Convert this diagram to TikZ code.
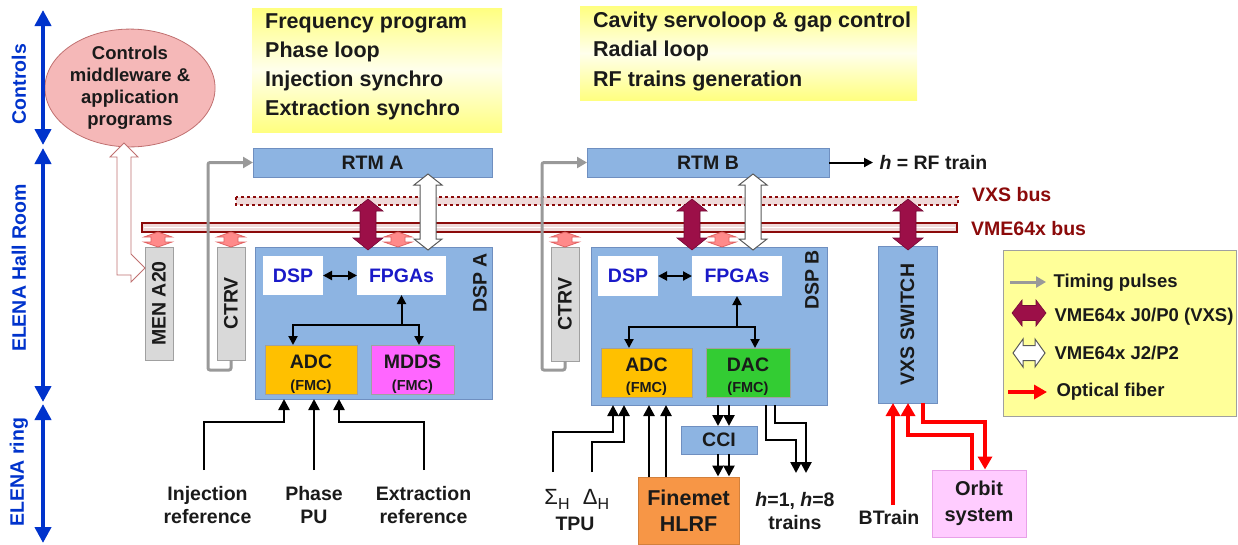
\documentclass[tikz,border=0pt]{standalone}
\usepackage{fontspec}
\setmainfont{Liberation Sans}
\usetikzlibrary{arrows.meta,shapes.geometric,calc}

\definecolor{axisblue}{HTML}{0033CC}
\definecolor{boxfill}{HTML}{8DB4E2}
\definecolor{boxline}{HTML}{6F8FC0}
\definecolor{grayfill}{HTML}{D9D9D9}
\definecolor{grayline}{HTML}{A0A0A0}
\definecolor{timegray}{HTML}{999999}
\definecolor{busred}{HTML}{8B0A0A}
\definecolor{busfill}{HTML}{EFD9D9}
\definecolor{vxsmag}{HTML}{9C0F48}
\definecolor{salmonfill}{HTML}{FF8A8A}
\definecolor{salmonline}{HTML}{E06464}
\definecolor{labelblue}{HTML}{1A1AC8}
\definecolor{adcfill}{HTML}{FFC000}
\definecolor{mddsfill}{HTML}{FF66FF}
\definecolor{dacfill}{HTML}{33CC33}
\definecolor{hlrffill}{HTML}{F79646}
\definecolor{orbitfill}{HTML}{FFCCFF}
\definecolor{orbitline}{HTML}{E8A0E8}
\definecolor{ellfill}{HTML}{F5B8B8}
\definecolor{ellline}{HTML}{C07070}
\definecolor{notefill}{HTML}{FFFF80}
\definecolor{notelight}{HTML}{FFFFEC}
\definecolor{legendfill}{HTML}{FFFF99}
\definecolor{fiberred}{HTML}{FF0000}
\definecolor{textgray}{HTML}{1A1A1A}

\newcommand{\fsz}[2]{\fontsize{#1}{#2}\selectfont}
% vertical double arrow: style, x, top, bottom, shaft half width, head half width, head length
\newcommand{\dblV}[7]{%
  \draw[#1] (#2,#3) -- (#2+#6,#3+#7) -- (#2+#5,#3+#7) -- (#2+#5,#4-#7) -- (#2+#6,#4-#7)
    -- (#2,#4) -- (#2-#6,#4-#7) -- (#2-#5,#4-#7) -- (#2-#5,#3+#7) -- (#2-#6,#3+#7) -- cycle;}
% horizontal double arrow: style, y, left, right, shaft half width, head half width, head length
\newcommand{\dblH}[7]{%
  \draw[#1] (#3,#2) -- (#3+#7,#2-#6) -- (#3+#7,#2-#5) -- (#4-#7,#2-#5) -- (#4-#7,#2-#6)
    -- (#4,#2) -- (#4-#7,#2+#6) -- (#4-#7,#2+#5) -- (#3+#7,#2+#5) -- (#3+#7,#2+#6) -- cycle;}

\begin{document}
\begin{tikzpicture}[x=1pt,y=-1pt,
  font=\fsz{19.5}{23}\bfseries, text=textgray,
  blk/.style={draw=boxline, fill=boxfill, line width=1pt, inner sep=0pt, outer sep=0pt},
  gbox/.style={draw=grayline, fill=grayfill, line width=1pt, inner sep=0pt, outer sep=0pt},
  chip/.style={fill=white, inner sep=0pt, outer sep=0pt, text=labelblue},
  fmc/.style={draw=grayline, line width=0.8pt, inner sep=0pt, outer sep=0pt},
  fmctext/.style={align=center, inner sep=0pt},
  axisarr/.style={axisblue, line width=4pt,
     {Triangle[width=16pt,length=16pt]}-{Triangle[width=16pt,length=16pt]}},
  timing/.style={timegray, line width=3pt, rounded corners=2pt,
     -{Triangle[width=11pt,length=10pt]}},
  link/.style={line width=2pt, -{Triangle[width=9pt,length=9pt]}},
  biglink/.style={line width=2pt,
     {Triangle[width=9pt,length=9pt]}-{Triangle[width=9pt,length=9pt]}},
  sig/.style={line width=2.5pt, -{Triangle[width=11pt,length=11pt]}},
  fiber/.style={fiberred, line width=4pt, -{Triangle[width=14pt,length=13pt]}},
  magarr/.style={fill=vxsmag, draw=vxsmag!75!black, line width=0.6pt},
  pinkarr/.style={fill=salmonfill, draw=salmonline, line width=0.8pt},
  whitearr/.style={fill=white, draw=black!65, line width=1pt},
  hollow/.style={fill=white, draw=ellline, line width=0.8pt},
  notetext/.style={anchor=west, align=left, inner sep=0pt, font=\fsz{21.5}{29}\bfseries},
  lbl/.style={align=center},
  plain/.style={font=\fsz{22}{23}\mdseries, inner sep=0pt}
]
\useasboundingbox (0,0) rectangle (1238,544);

% ---------- function notes ----------
\shade[top color=notefill, bottom color=notefill, middle color=notelight] (252,8) rectangle (502,132);
\node[notetext] (notea) at (265,67) {Frequency program\\Phase loop\\Injection synchro\\Extraction synchro};
\shade[top color=notefill, bottom color=notefill, middle color=notelight] (580,6) rectangle (917,100);
\node[notetext, font=\fsz{21.5}{29.5}\bfseries] (noteb) at (593,51) {Cavity servoloop \& gap control\\Radial loop\\RF trains generation};

% ---------- controls ----------
\node[ellipse, draw=ellline, fill=ellfill, line width=0.8pt, minimum width=143pt,
      minimum height=110pt, inner sep=0pt, align=center, font=\fsz{18.5}{22}\bfseries]
      (ctl) at (130,88) {Controls\\middleware \&\\application\\programs};

% ---------- location axis ----------
\coordinate (ax0) at (43,10);
\coordinate (ax1) at (43,145);
\coordinate (ax2) at (43,148);
\coordinate (ax3) at (43,402);
\coordinate (ax4) at (43,404);
\coordinate (ax5) at (43,543);
\draw[axisarr] (ax0) -- (ax1);
\draw[axisarr] (ax2) -- (ax3);
\draw[axisarr] (ax4) -- (ax5);
\node[rotate=90, text=axisblue] (lblctl) at (19,84) {Controls};
\node[rotate=90, text=axisblue] (lblhall) at (19,268) {ELENA Hall Room};
\node[rotate=90, text=axisblue] (lblring) at (19,472) {ELENA ring};

% ---------- crate buses ----------
\draw[busred, dashed, line width=1.2pt, fill=busfill] (236,197) rectangle (958,205);
\draw[busred, line width=2pt, fill=busfill] (142,223) rectangle (957,232);
\draw[white, line width=1.5pt] (144,227.5) -- (955,227.5);
\node[anchor=west, text=busred, inner sep=0pt] (vxslbl) at (972,195) {VXS bus};
\node[anchor=west, text=busred, inner sep=0pt] (vmelbl) at (971,229) {VME64x bus};

% ---------- modules ----------
\node[blk, minimum width=239pt, minimum height=29pt] (RTMa) at (372.5,162.5) {RTM A};
\node[blk, minimum width=242pt, minimum height=29pt] (RTMb) at (708,162.5) {RTM B};

\node[gbox, minimum width=28pt, minimum height=113pt] (MEN) at (159,303.5) {};
\node[rotate=90] (MENlbl) at (MEN.center) {MEN A20};
\node[gbox, minimum width=28pt, minimum height=113pt] (CTRVa) at (231,303.5) {};
\node[rotate=90] (CTRValbl) at (CTRVa.center) {CTRV};
\node[gbox, minimum width=28pt, minimum height=114pt] (CTRVb) at (565,304) {};
\node[rotate=90] (CTRVblbl) at (CTRVb.center) {CTRV};

\node[blk, minimum width=237pt, minimum height=152pt] (DSPa) at (373.5,323) {};
\node[rotate=90] (DSPalbl) at (480,283) {DSP A};
\node[chip, minimum width=60pt, minimum height=39pt] (DSPca) at (293,275.5) {DSP};
\node[chip, minimum width=89pt, minimum height=39pt] (FPGAa) at (401.5,275.5) {FPGAs};
\node[fmc, fill=adcfill, minimum width=92pt, minimum height=49pt] (ADCa) at (311,369.5) {};
\node[fmctext] (ADCalbl) at ([yshift=-5pt]ADCa.center) {ADC\\[-1pt]{\fsz{14.5}{16}(FMC)}};
\node[fmc, fill=mddsfill, minimum width=83pt, minimum height=49pt] (MDDS) at (412.5,369.5) {};
\node[fmctext] (MDDSlbl) at ([yshift=-5pt]MDDS.center) {MDDS\\[-1pt]{\fsz{14.5}{16}(FMC)}};

\node[blk, minimum width=236pt, minimum height=158pt] (DSPb) at (709,326) {};
\node[rotate=90] (DSPblbl) at (812,280) {DSP B};
\node[chip, minimum width=60pt, minimum height=40pt] (DSPcb) at (628,276) {DSP};
\node[chip, minimum width=90pt, minimum height=40pt] (FPGAb) at (737,276) {FPGAs};
\node[fmc, fill=adcfill, minimum width=91pt, minimum height=49pt] (ADCb) at (646.5,372.5) {};
\node[fmctext] (ADCblbl) at ([yshift=-4pt]ADCb.center) {ADC\\[-2pt]{\fsz{14.5}{16}(FMC)}};
\node[fmc, fill=dacfill, minimum width=84pt, minimum height=49pt] (DAC) at (748,372.5) {};
\node[fmctext] (DAClbl) at ([yshift=-4pt]DAC.center) {DAC\\[-2pt]{\fsz{14.5}{16}(FMC)}};

\node[blk, minimum width=59pt, minimum height=157pt] (VXSsw) at (907.5,324.5) {};
\node[rotate=90] (VXSlbl) at (VXSsw.center) {VXS SWITCH};

\node[blk, minimum width=76pt, minimum height=28pt] (CCI) at (719,440) {CCI};
\node[draw=hlrffill!85!black, fill=hlrffill, line width=1pt, minimum width=101pt,
      minimum height=67pt, inner sep=0pt, align=center, font=\fsz{21.5}{26}\bfseries]
      (HLRF) at (688.5,510.5) {Finemet\\HLRF};
\node[draw=orbitline, fill=orbitfill, line width=1pt, minimum width=94pt,
      minimum height=67pt, inner sep=0pt, align=center, font=\fsz{20}{26}\bfseries]
      (orbit) at (979,503.5) {Orbit\\system};

% ---------- legend ----------
\node[draw=grayline, fill=legendfill, line width=1pt, minimum width=233pt,
      minimum height=166pt, inner sep=0pt] (legend) at (1119.5,333) {};
\coordinate (lg1a) at (1010,282); \coordinate (lg1b) at (1046,282);
\draw[timing] (lg1a) -- (lg1b);
\node[anchor=west, font=\fsz{18.5}{22}\bfseries] (lgt1) at (1050,283) {Timing pulses};
\dblH{magarr}{313}{1012}{1046}{7.5}{13}{10}
\node[anchor=west, font=\fsz{18.5}{22}\bfseries] (lgt2) at (1051,317) {VME64x J0/P0 (VXS)};
\dblH{whitearr}{353}{1013}{1045}{7.5}{14}{10}
\node[anchor=west, font=\fsz{18.5}{22}\bfseries] (lgt3) at (1051,353) {VME64x J2/P2};
\coordinate (lg4a) at (1008,392); \coordinate (lg4b) at (1047,392);
\draw[fiber] (lg4a) -- (lg4b);
\node[anchor=west, font=\fsz{18.5}{22}\bfseries] (lgt4) at (1053,392) {Optical fiber};

% ---------- timing distribution ----------
\draw[timing] (CTRVa.south) -- ++(0,10) -| ($(RTMa.west)+(-45,0)$) -- (RTMa.west);
\draw[timing] (CTRVb.south) -- ++(0,9) -| ($(RTMb.west)+(-45,0)$) -- (RTMb.west);

% ---------- backplane connections ----------
\dblV{magarr}{368}{199}{250}{8}{15}{12}
\dblV{magarr}{692}{199}{250}{8}{15}{12}
\dblV{magarr}{908}{199}{250}{8}{15}{12}
\dblV{pinkarr}{158}{232}{247}{7}{14}{5}
\dblV{pinkarr}{231}{232}{247}{7}{14}{5}
\dblV{pinkarr}{398}{232}{247}{7}{14}{5}
\dblV{pinkarr}{565}{232}{247}{7}{14}{5}
\dblV{pinkarr}{722}{232}{247}{7}{14}{5}
\dblV{whitearr}{428}{174}{250}{8}{14}{11}
\dblV{whitearr}{753}{174}{250}{8}{14}{11}

% controls link to the crate CPU
\draw[hollow] (124,143) -- (138,157) -- (131,157) -- (131,254) -- (145,268) -- (131,282)
   -- (131,275) -- (117,275) -- (117,157) -- (110,157) -- cycle;

% ---------- on-board links ----------
\draw[biglink] (DSPca.east) -- (FPGAa.west);
\draw[biglink] (DSPcb.east) -- (FPGAb.west);
\coordinate (ja) at (401.5,325);
\draw[link] (ja) -- (FPGAa.south);
\draw[link] (ja) -| ([xshift=-18pt]ADCa.north);
\draw[link] (ja) -| ([xshift=6.5pt]MDDS.north);
\coordinate (jb) at (737,327);
\draw[link] (jb) -- (FPGAb.south);
\draw[link] (jb) -| ([xshift=-17.5pt]ADCb.north);
\draw[link] (jb) -| ([xshift=7pt]DAC.north);

% RF train output
\coordinate (rfout) at (873,162.5);
\draw[link] (RTMb.east) -- (rfout);
\node[anchor=west] (rflbl) at (876,162.5) {\textit{h} = RF train};

% ---------- DSP A inputs ----------
\coordinate (cinj) at (204,470);
\coordinate (cph) at (314,470);
\coordinate (cext) at (424,470);
\draw[sig] (cinj) |- ($(DSPa.south)+(-89.5,23)$) -- ([xshift=-89.5pt]DSPa.south);
\draw[sig] (cph) -- (cph |- DSPa.south);
\draw[sig] (cext) |- ($(DSPa.south)+(-34.5,23)$) -- ([xshift=-34.5pt]DSPa.south);
\node[lbl] (injlbl) at (207.5,505) {Injection\\reference};
\node[lbl] (phlbl) at (314,505) {Phase\\PU};
\node[lbl] (extlbl) at (423.5,505) {Extraction\\reference};

% ---------- DSP B inputs and outputs ----------
\coordinate (csig) at (553,472);
\coordinate (cdel) at (592,472);
\draw[sig] (csig) |- ($(DSPb.south)+(-96,27)$) -- ([xshift=-96pt]DSPb.south);
\draw[sig] (cdel) |- ($(DSPb.south)+(-85,37)$) -- ([xshift=-85pt]DSPb.south);
\draw[sig] ([xshift=-39.5pt]HLRF.north) -- ([xshift=-39.5pt]HLRF.north |- DSPb.south);
\draw[sig] ([xshift=-22.5pt]HLRF.north) -- ([xshift=-22.5pt]HLRF.north |- DSPb.south);
\draw[sig] ([xshift=-1pt]CCI.north |- DSPb.south) -- ([xshift=-1pt]CCI.north);
\draw[sig] ([xshift=10pt]CCI.north |- DSPb.south) -- ([xshift=10pt]CCI.north);
\draw[sig] ([xshift=-1pt]CCI.south) -- ([xshift=-1pt]CCI.south |- HLRF.north);
\draw[sig] ([xshift=10pt]CCI.south) -- ([xshift=10pt]CCI.south |- HLRF.north);
\coordinate (htr1) at (796,473);
\coordinate (htr2) at (806,473);
\draw[sig] ([xshift=57pt]DSPb.south) |- ($(htr1)+(0,-33)$) -- (htr1);
\draw[sig] ([xshift=66pt]DSPb.south) |- ($(htr2)+(0,-50)$) -- (htr2);
\node[plain] (sigH) at (557,499) {Σ\raisebox{-5pt}{\fsz{16}{16}H}};
\node[plain] (delH) at (596,499) {Δ\raisebox{-5pt}{\fsz{16}{16}H}};
\node (tpu) at (575,524) {TPU};
\node[lbl] (htrlbl) at (795,511) {\textit{h}=1, \textit{h}=8\\trains};

% ---------- fibre links ----------
\coordinate (cbt) at (893,505);
\draw[fiber] (cbt) -- (cbt |- VXSsw.south);
\draw[fiber] ([xshift=-7pt]orbit.north) |- ($(VXSsw.south)+(0.5,32)$) -- ([xshift=0.5pt]VXSsw.south);
\draw[fiber] ([xshift=15.5pt]VXSsw.south) |- ($(orbit.north)+(6,-48)$) -- ([xshift=6pt]orbit.north);
\node (btlbl) at (889,518) {BTrain};

\end{tikzpicture}
\end{document}
